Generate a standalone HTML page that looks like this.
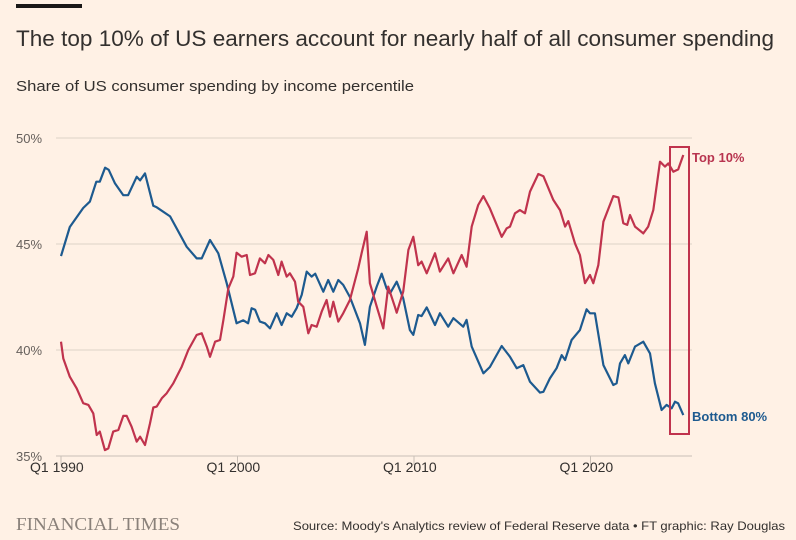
<!DOCTYPE html>
<html><head><meta charset="utf-8">
<style>
html,body{margin:0;padding:0;background:#fff1e5;}
svg{display:block;font-family:"Liberation Sans",sans-serif;}
</style></head>
<body>
<svg id="chart" width="796" height="540" viewBox="0 0 796 540">
<rect x="0" y="0" width="796" height="540" fill="#fff1e5"/>
<rect x="16" y="4" width="66" height="4" fill="#1a1817"/>
<text x="16" y="46" font-size="22" fill="#33302e" textLength="758" lengthAdjust="spacingAndGlyphs">The top 10% of US earners account for nearly half of all consumer spending</text>
<text x="16" y="91" font-size="15" fill="#33302e" textLength="398" lengthAdjust="spacingAndGlyphs">Share of US consumer spending by income percentile</text>
<g id="grid"></g>
<g id="xaxis"></g>
<g id="series"></g>
<rect x="670" y="147" width="19" height="287" fill="none" stroke="#c0334d" stroke-width="2"/>
<text x="692" y="162" font-size="13" font-weight="bold" fill="#b8344f">Top 10%</text>
<text x="692" y="421" font-size="13" font-weight="bold" fill="#1d5a8f">Bottom 80%</text>
<text x="16" y="530" font-family="'Liberation Serif',serif" font-size="18" fill="#8a817a" textLength="164" lengthAdjust="spacingAndGlyphs">FINANCIAL TIMES</text>
<text x="785" y="530" font-size="12" fill="#33302e" text-anchor="end" textLength="492" lengthAdjust="spacingAndGlyphs">Source: Moody's Analytics review of Federal Reserve data • FT graphic: Ray Douglas</text>
</svg>
<script>
const yTicks = [35, 40, 45, 50];
const yTickLabels = ["35%", "40%", "45%", "50%"];
const xTicks = [1990, 2000, 2010, 2020];
const xTickLabels = ["Q1 1990", "Q1 2000", "Q1 2010", "Q1 2020"];

const bottomYears = [1990.0,1990.5,1991.26,1991.64,1992.0,1992.2,1992.5,1992.7,1993.06,1993.53,1993.8,1994.29,1994.48,1994.76,1995.23,1995.42,1996.18,1997.12,1997.69,1997.97,1998.44,1998.91,1999.39,1999.95,2000.33,2000.6,2000.8,2001.0,2001.27,2001.56,2001.84,2002.22,2002.5,2002.79,2003.07,2003.35,2003.64,2003.92,2004.2,2004.4,2004.86,2005.14,2005.43,2005.71,2005.99,2006.37,2006.94,2007.22,2007.5,2007.89,2008.17,2008.45,2008.64,2009.02,2009.39,2009.77,2009.96,2010.24,2010.43,2010.72,2011.19,2011.47,2011.94,2012.23,2012.79,2012.98,2013.27,2013.93,2014.3,2014.97,2015.44,2015.82,2016.19,2016.57,2017.14,2017.33,2017.7,2018.08,2018.37,2018.56,2018.93,2019.4,2019.78,2019.97,2020.25,2020.73,2021.29,2021.48,2021.67,2021.95,2022.14,2022.52,2022.99,2023.37,2023.65,2024.03,2024.31,2024.6,2024.79,2024.97,2025.26];
const bottomValues = [44.43,45.8,46.7,47.0,47.94,47.94,48.6,48.5,47.86,47.3,47.3,48.17,48.0,48.33,46.8,46.73,46.3,44.87,44.32,44.32,45.19,44.56,43.15,41.26,41.4,41.26,41.97,41.9,41.34,41.26,41.02,41.73,41.18,41.73,41.57,41.97,42.6,43.7,43.46,43.6,42.75,43.3,42.75,43.3,43.07,42.5,41.26,40.24,42.04,43.0,43.6,42.9,42.67,43.22,42.44,40.94,40.71,41.65,41.6,42.01,41.18,41.73,41.1,41.5,41.1,41.42,40.16,38.9,39.2,40.19,39.68,39.14,39.29,38.5,37.99,38.03,38.66,39.14,39.76,39.53,40.47,40.94,41.92,41.73,41.73,39.29,38.35,38.43,39.37,39.76,39.37,40.16,40.39,39.84,38.43,37.17,37.41,37.25,37.56,37.48,36.93];

const topYears = [1990.0,1990.13,1990.5,1990.89,1991.26,1991.55,1991.83,1992.02,1992.2,1992.49,1992.68,1992.96,1993.25,1993.53,1993.72,1994.0,1994.29,1994.48,1994.76,1995.04,1995.23,1995.42,1995.71,1995.99,1996.36,1996.84,1997.21,1997.69,1997.97,1998.26,1998.44,1998.73,1999.01,1999.2,1999.48,1999.76,1999.95,2000.24,2000.52,2000.71,2000.99,2001.27,2001.56,2001.75,2002.03,2002.31,2002.5,2002.79,2002.97,2003.26,2003.44,2003.73,2004.01,2004.2,2004.49,2004.77,2005.05,2005.24,2005.43,2005.71,2005.99,2006.37,2006.84,2007.03,2007.32,2007.5,2007.89,2008.26,2008.54,2008.92,2009.02,2009.39,2009.68,2009.96,2010.24,2010.43,2010.72,2011.19,2011.47,2011.94,2012.23,2012.7,2012.98,2013.27,2013.64,2013.93,2014.3,2014.97,2015.25,2015.44,2015.72,2016.0,2016.29,2016.57,2017.04,2017.33,2017.89,2018.27,2018.56,2018.74,2019.12,2019.4,2019.69,2019.97,2020.16,2020.44,2020.73,2021.29,2021.58,2021.86,2022.08,2022.24,2022.52,2022.99,2023.27,2023.56,2023.94,2024.22,2024.41,2024.69,2024.97,2025.26];
const topValues = [40.39,39.6,38.74,38.19,37.49,37.41,37.01,35.99,36.15,35.28,35.36,36.15,36.23,36.89,36.89,36.38,35.68,35.91,35.52,36.54,37.29,37.33,37.72,37.96,38.43,39.21,40.0,40.71,40.79,40.16,39.68,40.39,40.47,41.42,42.9,43.46,44.59,44.4,44.48,43.54,43.62,44.32,44.09,44.48,44.25,43.54,44.17,43.46,43.62,43.22,42.28,42.04,40.79,41.18,41.1,41.81,42.36,41.57,42.28,41.34,41.73,42.36,43.85,44.56,45.58,43.15,42.04,41.02,42.99,42.04,41.76,42.75,44.72,45.34,44.0,44.17,43.62,44.56,43.7,44.32,43.62,44.48,43.93,45.82,46.84,47.26,46.68,45.34,45.74,45.82,46.45,46.6,46.45,47.47,48.3,48.2,47.08,46.6,45.82,46.08,45.03,44.48,43.15,43.54,43.15,44.0,46.05,47.26,47.2,45.98,45.9,46.37,45.82,45.5,45.82,46.6,48.88,48.65,48.8,48.41,48.52,49.2];

const NS = "http://www.w3.org/2000/svg";
function xScale(yr){ return 61 + (yr - 1990) * 17.65; }
function yScale(v){ return 456 - (v - 35) * 21.2; }
function mk(tag, attrs, parent){ const e = document.createElementNS(NS, tag); for (const k in attrs) e.setAttribute(k, attrs[k]); parent.appendChild(e); return e; }

const grid = document.getElementById('grid');
yTicks.forEach((t, i) => {
  const ln = mk('line', {x1:56, x2:692, y1:yScale(t), y2:yScale(t), stroke: i===0 ? '#c9bfb6' : '#ddd2c8', 'stroke-width':1}, grid);
  
  
  const tx = mk('text', {x:16, y:yScale(t)+5, 'font-size':13, fill:'#66605c'}, grid);
  tx.textContent = yTickLabels[i];
  
  
});
const xa = document.getElementById('xaxis');
xTicks.forEach((t, i) => {
  const tk = mk('line', {x1:xScale(t), x2:xScale(t), y1:456, y2:465, stroke:'#c9bfb6', 'stroke-width':1}, xa);
  
  
  const tx = mk('text', {x:xScale(t)-31, y:472, 'font-size':14, fill:'#33302e'}, xa);
  tx.textContent = xTickLabels[i];
  
  
});
function pathFor(xs, vs){ return xs.map((x,i)=>(i?'L':'M')+xScale(x).toFixed(1)+','+yScale(vs[i]).toFixed(1)).join(''); }
const sg = document.getElementById('series');
const b = mk('path', {d:pathFor(bottomYears,bottomValues), fill:'none', stroke:'#1d5a8f', 'stroke-width':2.2, 'stroke-linejoin':'round'}, sg);


const t = mk('path', {d:pathFor(topYears,topValues), fill:'none', stroke:'#c0334d', 'stroke-width':2.2, 'stroke-linejoin':'round'}, sg);


</script>
</body></html>
